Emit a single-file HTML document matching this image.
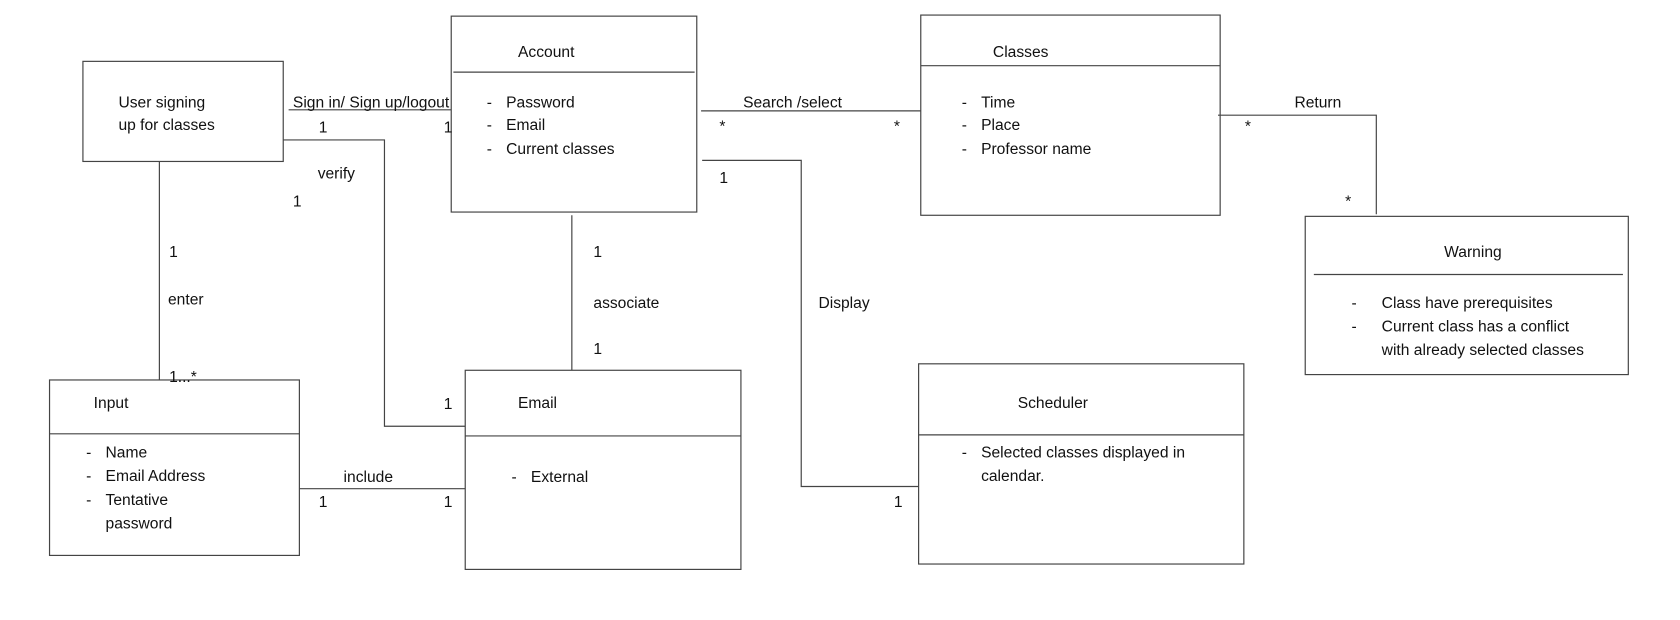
<!DOCTYPE html>
<html><head><meta charset="utf-8"><style>
html,body{margin:0;padding:0;background:#fff;}
svg{display:block;}
text{font-family:"Liberation Sans",Arial,sans-serif;font-size:14.5px;fill:#111;}
</style></head><body>
<svg width="1680" height="620" viewBox="0 0 1560 576" preserveAspectRatio="none">
<g fill="none" stroke="#444" stroke-width="1.1">
<rect x="77" y="57" width="186" height="93"/>
<rect x="419" y="15" width="228" height="182"/><line x1="421" y1="67" x2="645" y2="67"/>
<rect x="855" y="14" width="278" height="186"/><line x1="855" y1="61" x2="1133" y2="61"/>
<rect x="1212" y="201" width="300" height="147"/><line x1="1220" y1="255" x2="1507" y2="255"/>
<rect x="46" y="353" width="232" height="163"/><line x1="46" y1="403" x2="278" y2="403"/>
<rect x="432" y="344" width="256" height="185"/><line x1="432" y1="405" x2="688" y2="405"/>
<rect x="853" y="338" width="302" height="186"/><line x1="853" y1="404" x2="1155" y2="404"/>
<line x1="268" y1="102" x2="419" y2="102"/>
<polyline points="263,130 357,130 357,396 432,396"/>
<line x1="148" y1="150" x2="148" y2="353"/>
<line x1="278" y1="454" x2="432" y2="454"/>
<line x1="531" y1="200" x2="531" y2="344"/>
<line x1="651" y1="103" x2="855" y2="103"/>
<polyline points="652,149 744,149 744,452 853,452"/>
<polyline points="1131,107 1278,107 1278,199"/>
</g>
<text x="110" y="100">User signing</text><text x="110" y="121">up for classes</text>
<text x="481" y="53">Account</text>
<text x="452" y="100">-</text><text x="470" y="100">Password</text>
<text x="452" y="121">-</text><text x="470" y="121">Email</text>
<text x="452" y="143">-</text><text x="470" y="143">Current classes</text>
<text x="922" y="53">Classes</text>
<text x="893" y="100">-</text><text x="911" y="100">Time</text>
<text x="893" y="121">-</text><text x="911" y="121">Place</text>
<text x="893" y="143">-</text><text x="911" y="143">Professor name</text>
<text x="1341" y="239">Warning</text>
<text x="1255" y="286">-</text><text x="1283" y="286">Class have prerequisites</text>
<text x="1255" y="308">-</text><text x="1283" y="308">Current class has a conflict</text>
<text x="1283" y="330">with already selected classes</text>
<text x="87" y="379">Input</text>
<text x="80" y="425">-</text><text x="98" y="425">Name</text>
<text x="80" y="447">-</text><text x="98" y="447">Email Address</text>
<text x="80" y="469">-</text><text x="98" y="469">Tentative</text>
<text x="98" y="491">password</text>
<text x="481" y="379">Email</text>
<text x="475" y="448">-</text><text x="493" y="448">External</text>
<text x="945" y="379">Scheduler</text>
<text x="893" y="425">-</text><text x="911" y="425">Selected classes displayed in</text>
<text x="911" y="447">calendar.</text>
<text x="272" y="100">Sign in/ Sign up/logout</text>
<text x="296" y="123">1</text><text x="412" y="123">1</text>
<text x="295" y="166">verify</text><text x="272" y="192">1</text><text x="412" y="380">1</text>
<text x="157" y="239">1</text><text x="156" y="283">enter</text><text x="157" y="355">1...*</text>
<text x="319" y="448">include</text><text x="296" y="471">1</text><text x="412" y="471">1</text>
<text x="551" y="239">1</text><text x="551" y="286">associate</text><text x="551" y="329">1</text>
<text x="690" y="100">Search /select</text><text x="668" y="122">*</text><text x="830" y="122">*</text>
<text x="668" y="170">1</text><text x="760" y="286">Display</text><text x="830" y="471">1</text>
<text x="1202" y="100">Return</text><text x="1156" y="122">*</text><text x="1249" y="192">*</text>
</svg>
</body></html>
